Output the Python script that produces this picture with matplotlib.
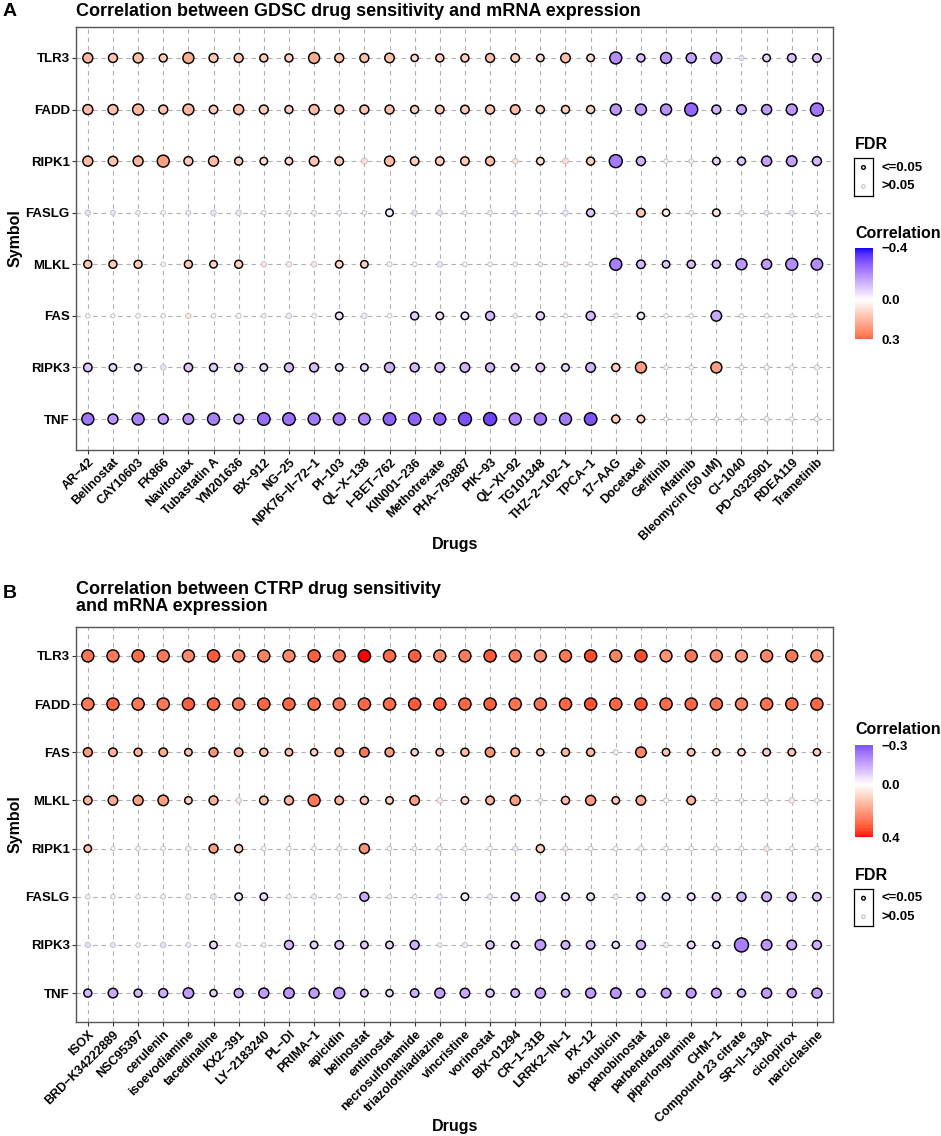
import numpy as np
import matplotlib
matplotlib.use("Agg")
import matplotlib.pyplot as plt
import matplotlib.cm as cm
import matplotlib.transforms as mtransforms
from matplotlib.colors import ListedColormap, Normalize

plt.rcParams["font.family"] = ["Liberation Sans", "DejaVu Sans"]
plt.rcParams["font.weight"] = "bold"

# ---------------- data: panel A (GDSC) ----------------
gdsc_drugs = ["AR-42", "Belinostat", "CAY10603", "FK866", "Navitoclax", "Tubastatin A",
              "YM201636", "BX-912", "NG-25", "NPK76-II-72-1", "PI-103", "QL-X-138",
              "I-BET-762", "KIN001-236", "Methotrexate", "PHA-793887", "PIK-93", "QL-XI-92",
              "TG101348", "THZ-2-102-1", "TPCA-1", "17-AAG", "Docetaxel", "Gefitinib",
              "Afatinib", "Bleomycin (50 uM)", "CI-1040", "PD-0325901", "RDEA119", "Trametinib"]
gdsc_genes = ["TLR3", "FADD", "RIPK1", "FASLG", "MLKL", "FAS", "RIPK3", "TNF"]

gdsc_cor = [
    # TLR3
    [0.15, 0.12, 0.14, 0.11, 0.17, 0.12, 0.12, 0.11, 0.10, 0.17, 0.12, 0.13, 0.13, 0.08, 0.10,
     0.10, 0.13, 0.11, 0.08, 0.14, 0.08, -0.20, -0.11, -0.18, -0.16, -0.18, -0.06, -0.08, -0.11, -0.11],
    # FADD
    [0.14, 0.13, 0.15, 0.12, 0.15, 0.11, 0.14, 0.11, 0.10, 0.14, 0.12, 0.12, 0.13, 0.10, 0.11,
     0.11, 0.12, 0.14, 0.10, 0.10, 0.10, -0.18, -0.18, -0.19, -0.26, -0.13, -0.16, -0.17, -0.18, -0.24],
    # RIPK1
    [0.14, 0.13, 0.15, 0.20, 0.11, 0.14, 0.10, 0.08, 0.08, 0.12, 0.11, 0.07, 0.14, 0.10, 0.10,
     0.11, 0.13, 0.05, 0.08, 0.07, 0.10, -0.23, -0.13, -0.02, -0.02, -0.08, -0.10, -0.16, -0.16, -0.12],
    # FASLG
    [-0.06, -0.05, -0.03, -0.02, -0.04, -0.05, -0.05, -0.02, -0.03, -0.04, -0.04, -0.02, -0.03, -0.06, -0.06,
     -0.03, -0.03, -0.04, -0.04, -0.05, -0.10, 0.03, 0.12, 0.03, -0.02, 0.06, -0.04, -0.05, -0.05, -0.03],
    # MLKL
    [0.12, 0.11, 0.11, 0.02, 0.12, 0.09, 0.10, 0.05, 0.04, 0.05, 0.09, 0.10, 0.03, 0.02, -0.05,
     -0.02, -0.02, -0.02, -0.02, 0.04, -0.02, -0.22, -0.12, -0.10, -0.11, -0.12, -0.18, -0.17, -0.20, -0.20],
    # FAS
    [-0.02, 0.00, 0.01, 0.01, 0.05, -0.01, -0.02, -0.02, -0.04, -0.01, -0.05, -0.04, -0.01, -0.09, -0.06,
     -0.05, -0.12, -0.02, -0.08, -0.02, -0.12, -0.01, -0.04, -0.01, -0.01, -0.15, -0.01, -0.01, -0.01, -0.01],
    # RIPK3
    [-0.10, -0.07, -0.06, -0.05, -0.10, -0.08, -0.08, -0.07, -0.11, -0.11, -0.07, -0.07, -0.13, -0.12, -0.12,
     -0.13, -0.12, -0.08, -0.10, -0.07, -0.13, 0.10, 0.20, -0.01, -0.01, 0.20, -0.01, -0.02, -0.01, 0.03],
    # TNF
    [-0.24, -0.18, -0.22, -0.17, -0.18, -0.22, -0.15, -0.25, -0.25, -0.23, -0.23, -0.21, -0.27, -0.27, -0.27,
     -0.30, -0.32, -0.22, -0.24, -0.23, -0.30, 0.10, 0.10, -0.01, -0.01, -0.02, -0.03, 0.02, -0.01, 0.02],
]

# -log10(FDR)
gdsc_logfdr = [
    [3.5, 2.6, 3.5, 1.9, 4.5, 2.6, 2.6, 1.9, 1.9, 4.5, 2.6, 2.6, 3.1, 1.35, 1.9,
     1.9, 2.6, 2.25, 1.55, 3.1, 1.55, 5.6, 1.9, 4.5, 3.5, 4.5, 0.4, 1.55, 2.25, 2.25],
    [3.5, 3.5, 4.5, 2.6, 4.5, 2.25, 3.5, 2.6, 1.9, 3.5, 2.6, 2.6, 2.6, 1.9, 2.25,
     2.25, 2.6, 3.1, 1.9, 1.9, 1.9, 4.5, 4.5, 4.5, 6.9, 2.6, 3.1, 3.5, 4.5, 6.9],
    [3.5, 3.1, 3.5, 5.6, 2.6, 3.5, 1.9, 1.55, 1.55, 3.1, 2.25, 0.75, 3.5, 2.25, 2.25,
     2.25, 2.6, 0.55, 1.55, 0.75, 1.9, 6.9, 2.6, 0.25, 0.25, 1.55, 1.9, 3.5, 4.0, 2.6],
    [0.55, 0.4, 0.25, 0.25, 0.4, 0.55, 0.55, 0.25, 0.25, 0.4, 0.4, 0.25, 1.55, 0.55, 0.55,
     0.25, 0.25, 0.4, 0.4, 0.55, 1.9, 0.25, 2.25, 1.35, 0.25, 1.55, 0.4, 0.4, 0.4, 0.25],
    [1.9, 1.9, 1.9, 0.25, 1.9, 1.55, 1.9, 0.55, 0.55, 0.55, 1.55, 1.55, 0.4, 0.25, 0.55,
     0.25, 0.25, 0.25, 0.25, 0.4, 0.25, 5.6, 2.25, 1.55, 1.9, 1.9, 4.5, 3.5, 5.6, 5.1],
    [0.25, 0.14, 0.25, 0.25, 0.55, 0.25, 0.4, 0.25, 0.55, 0.25, 1.55, 0.55, 0.25, 1.9, 1.55,
     1.55, 2.6, 0.25, 1.9, 0.25, 2.6, 0.25, 1.35, 0.25, 0.25, 4.0, 0.25, 0.25, 0.14, 0.14],
    [2.25, 1.55, 1.35, 0.55, 2.25, 1.9, 1.9, 1.55, 2.6, 2.6, 1.55, 1.55, 3.5, 2.6, 3.1,
     3.1, 2.6, 1.55, 2.25, 1.55, 3.1, 1.9, 4.5, 0.25, 0.25, 4.5, 0.25, 0.4, 0.25, 0.4],
    [5.6, 3.5, 5.6, 3.5, 4.0, 5.6, 3.1, 6.25, 6.25, 5.6, 5.6, 5.1, 6.25, 6.25, 5.6,
     6.9, 6.9, 5.6, 5.6, 5.6, 6.25, 1.9, 1.55, 0.25, 0.25, 0.25, 0.4, 0.4, 0.25, 0.4],
]

# ---------------- data: panel B (CTRP) ----------------
ctrp_drugs = ["ISOX", "BRD-K34222889", "NSC95397", "cerulenin", "isoevodiamine", "tacedinaline",
              "KX2-391", "LY-2183240", "PL-DI", "PRIMA-1", "apicidin", "belinostat", "entinostat",
              "necrosulfonamide", "triazolothiadiazine", "vincristine", "vorinostat", "BIX-01294",
              "CR-1-31B", "LRRK2-IN-1", "PX-12", "doxorubicin", "panobinostat", "parbendazole",
              "piperlongumine", "CHM-1", "Compound 23 citrate", "SR-II-138A", "ciclopirox",
              "narciclasine"]
ctrp_genes = ["TLR3", "FADD", "FAS", "MLKL", "RIPK1", "FASLG", "RIPK3", "TNF"]

ctrp_cor = [
    # TLR3
    [0.27, 0.27, 0.29, 0.27, 0.24, 0.32, 0.24, 0.25, 0.24, 0.31, 0.27, 0.40, 0.29, 0.31, 0.24,
     0.26, 0.32, 0.26, 0.23, 0.27, 0.34, 0.25, 0.34, 0.22, 0.27, 0.24, 0.22, 0.24, 0.27, 0.24],
    # FADD
    [0.27, 0.30, 0.27, 0.27, 0.31, 0.30, 0.27, 0.30, 0.30, 0.29, 0.27, 0.30, 0.29, 0.32, 0.32,
     0.30, 0.31, 0.28, 0.28, 0.30, 0.33, 0.30, 0.33, 0.29, 0.30, 0.28, 0.25, 0.28, 0.28, 0.30],
    # FAS
    [0.20, 0.16, 0.15, 0.17, 0.13, 0.22, 0.17, 0.14, 0.13, 0.10, 0.18, 0.27, 0.20, 0.10, 0.12,
     0.14, 0.22, 0.16, 0.10, 0.15, 0.15, 0.04, 0.24, 0.12, 0.12, 0.10, 0.08, 0.10, 0.12, 0.10],
    # MLKL
    [0.15, 0.17, 0.19, 0.20, 0.10, 0.16, 0.05, 0.14, 0.15, 0.27, 0.15, 0.13, 0.10, 0.20, 0.04,
     0.10, 0.15, 0.20, 0.02, 0.14, 0.20, 0.12, 0.18, 0.02, 0.15, 0.01, 0.01, 0.01, 0.04, 0.01],
    # RIPK1
    [0.12, 0.01, 0.01, 0.01, 0.02, 0.20, 0.10, 0.01, 0.00, 0.01, 0.03, 0.22, 0.01, 0.01, 0.03,
     0.01, 0.00, -0.04, 0.10, 0.04, 0.01, 0.01, 0.02, 0.01, 0.00, 0.02, 0.01, 0.05, 0.01, 0.01],
    # FASLG
    [-0.02, -0.02, -0.02, -0.02, -0.03, -0.05, -0.04, -0.06, -0.02, -0.04, -0.03, -0.15, -0.03, -0.02, -0.04,
     -0.04, -0.04, -0.09, -0.14, -0.06, -0.06, -0.03, -0.08, -0.06, -0.06, -0.09, -0.13, -0.14, -0.13, -0.11],
    # RIPK3
    [-0.06, -0.05, -0.03, -0.06, -0.04, -0.06, -0.02, -0.03, -0.12, -0.08, -0.10, -0.10, -0.08, -0.14, -0.04,
     -0.04, -0.10, -0.08, -0.17, -0.13, -0.12, -0.06, -0.13, -0.03, -0.07, -0.06, -0.22, -0.18, -0.15, -0.14],
    # TNF
    [-0.12, -0.15, -0.12, -0.14, -0.17, -0.08, -0.14, -0.17, -0.18, -0.17, -0.18, -0.10, -0.06, -0.14, -0.16,
     -0.15, -0.10, -0.12, -0.17, -0.13, -0.17, -0.18, -0.13, -0.17, -0.17, -0.16, -0.12, -0.17, -0.15, -0.17],
]

ctrp_logfdr = [
    [5.6, 5.6, 5.8, 5.6, 5.6, 5.8, 5.6, 5.6, 5.6, 5.8, 5.6, 6.0, 5.8, 5.8, 5.6,
     5.6, 5.8, 5.6, 5.4, 5.6, 5.8, 5.6, 5.8, 5.4, 5.6, 5.6, 5.4, 5.6, 5.6, 5.6],
    [5.8, 5.8, 5.8, 5.8, 5.8, 5.8, 5.8, 5.8, 5.8, 5.8, 5.8, 5.8, 5.8, 5.8, 5.8,
     5.8, 5.8, 5.8, 5.8, 5.8, 5.8, 5.8, 5.8, 5.8, 5.8, 5.8, 5.6, 5.8, 5.8, 5.8],
    [2.6, 2.25, 1.9, 2.25, 1.55, 2.6, 2.25, 1.9, 1.55, 1.35, 2.25, 3.1, 2.6, 1.35, 1.55,
     1.9, 3.1, 2.25, 1.35, 1.9, 1.9, 0.4, 4.0, 1.55, 1.55, 1.35, 1.35, 1.55, 1.55, 1.35],
    [2.25, 3.1, 3.5, 4.0, 1.55, 2.6, 0.55, 2.25, 2.6, 5.6, 2.25, 1.9, 1.55, 3.1, 0.55,
     1.55, 2.25, 3.5, 0.25, 1.9, 3.5, 1.55, 3.1, 0.4, 2.25, 0.25, 0.25, 0.25, 0.55, 0.25],
    [1.55, 0.14, 0.25, 0.25, 0.4, 2.6, 1.9, 0.25, 0.25, 0.25, 0.4, 3.5, 0.25, 0.25, 0.4,
     0.25, 0.25, 0.4, 1.9, 0.4, 0.25, 0.25, 0.4, 0.25, 0.25, 0.4, 0.25, 0.55, 0.25, 0.25],
    [0.25, 0.25, 0.25, 0.25, 0.4, 0.55, 1.55, 1.55, 0.25, 0.4, 0.4, 2.6, 0.25, 0.25, 0.4,
     1.55, 0.4, 1.9, 3.1, 1.55, 1.55, 0.4, 1.9, 1.55, 1.55, 1.9, 2.6, 3.1, 2.6, 2.25],
    [0.55, 0.4, 0.25, 0.55, 0.4, 1.55, 0.25, 0.25, 2.6, 1.55, 2.25, 1.55, 1.55, 2.6, 0.25,
     0.4, 1.9, 1.55, 4.0, 2.25, 2.25, 1.35, 2.6, 0.4, 1.55, 1.35, 8.3, 4.0, 3.1, 2.6],
    [1.9, 3.1, 1.9, 2.6, 4.0, 1.35, 2.6, 3.5, 4.0, 3.5, 4.5, 1.55, 1.35, 2.25, 3.5,
     3.1, 1.9, 2.25, 3.5, 1.9, 3.5, 4.0, 2.25, 3.1, 3.1, 3.1, 1.9, 3.5, 2.6, 3.5],
]


# ---------------- colour scale (ggplot gradient2 in Lab space) ----------------
_M = np.array([[0.4124564, 0.3575761, 0.1804375],
               [0.2126729, 0.7151522, 0.0721750],
               [0.0193339, 0.1191920, 0.9503041]])
_WHITE = np.array([0.95047, 1.0, 1.08883])


def to_lab(rgb):
    rgb = np.asarray(rgb, float)
    lin = np.where(rgb <= 0.04045, rgb / 12.92, ((rgb + 0.055) / 1.055) ** 2.4)
    xyz = _M @ lin / _WHITE
    d = 6 / 29
    f = np.where(xyz > d ** 3, np.cbrt(xyz), xyz / (3 * d * d) + 4 / 29)
    return np.array([116 * f[1] - 16, 500 * (f[0] - f[1]), 200 * (f[1] - f[2])])


def from_lab(lab):
    L, a, b = lab
    fy = (L + 16) / 116
    f = np.array([fy + a / 500, fy, fy - b / 200])
    d = 6 / 29
    xyz = np.where(f > d, f ** 3, 3 * d * d * (f - 4 / 29)) * _WHITE
    lin = np.clip(np.linalg.solve(_M, xyz), 0, 1)
    rgb = np.where(lin <= 0.0031308, 12.92 * lin, 1.055 * lin ** (1 / 2.4) - 0.055)
    return np.clip(rgb, 0, 1)


lab_low, lab_mid, lab_high = to_lab([0, 0, 1]), to_lab([1, 1, 1]), to_lab([1, 0, 0])
cols = []
for t in np.linspace(0, 1, 256):
    if t < 0.5:
        cols.append(from_lab(lab_low + (lab_mid - lab_low) * (t * 2)))
    else:
        cols.append(from_lab(lab_mid + (lab_high - lab_mid) * ((t - 0.5) * 2)))
cmap = ListedColormap(cols)
norm = Normalize(-0.4, 0.4)


def fmt(s):
    return s.replace("-", "\u2212")


def draw_panel(ax, drugs, genes, cor, logfdr):
    cor = np.asarray(cor)
    logfdr = np.asarray(logfdr)
    xs = np.tile(np.arange(len(drugs)), len(genes))
    ys = np.repeat(np.arange(len(genes)), len(drugs))
    c = cor.ravel()
    v = logfdr.ravel()
    sig = v >= -np.log10(0.05)
    d_px = 2.5 + 4.0 * np.sqrt(v)
    sizes = (d_px * 0.72) ** 2
    edge = np.where(sig, "black", "#C4C4C4")
    lw = np.where(sig, 1.05, 0.7)
    ax.scatter(xs, ys, s=sizes, c=c, cmap=cmap, norm=norm,
               edgecolors=edge, linewidths=lw, zorder=3)
    ax.set_xlim(-0.47, len(drugs) - 0.36)
    ax.set_ylim(len(genes) - 0.4, -0.6)
    ax.set_xticks(range(len(drugs)))
    ax.set_yticks(range(len(genes)))
    ax.set_yticklabels(genes, fontsize=9.5, fontweight="bold")
    ax.set_xticklabels([fmt(s) for s in drugs], fontsize=9, fontweight="bold",
                       rotation=45, ha="right", va="top", rotation_mode="anchor")
    off = mtransforms.ScaledTranslation(5 / 72, 0, ax.figure.dpi_scale_trans)
    for lab in ax.get_xticklabels():
        lab.set_transform(lab.get_transform() + off)
    ax.grid(True, color="#B0B0B0", linestyle=(0, (4, 3.5)), linewidth=0.8, zorder=0)
    ax.set_axisbelow(True)
    for sp in ax.spines.values():
        sp.set_color("#555555")
        sp.set_linewidth(1.0)
    ax.tick_params(length=3, width=0.8, color="#333333", pad=1.5, labelcolor="black")


def fdr_key(fig, rect, ylab_hi, ylab_lo):
    kax = fig.add_axes(rect)
    kax.scatter([0.5, 0.5], [1.5, 0.5], s=7, c="white",
                edgecolors=["black", "#BBBBBB"], linewidths=[1.0, 0.7])
    kax.set_xlim(0, 1)
    kax.set_ylim(0, 2)
    kax.set_xticks([])
    kax.set_yticks([])
    for sp in kax.spines.values():
        sp.set_linewidth(0.9)
    fig.text(882 / W, ylab_hi, "<=0.05", fontsize=9.5, fontweight="bold", va="center")
    fig.text(882 / W, ylab_lo, ">0.05", fontsize=9.5, fontweight="bold", va="center")


def corr_bar(fig, rect, lo, hi, labels):
    cax = fig.add_axes(rect)
    sm = cm.ScalarMappable(norm=norm, cmap=cmap)
    cb = fig.colorbar(sm, cax=cax, boundaries=np.linspace(lo, hi, 200), ticks=[lo, 0, hi])
    cb.outline.set_visible(False)
    cax.invert_yaxis()
    cb.set_ticklabels(labels)
    cax.tick_params(length=0, pad=6, labelsize=9.5)
    for t in cax.get_yticklabels():
        t.set_fontweight("bold")


W, H = 941, 1136
fig = plt.figure(figsize=(W / 100, H / 100), dpi=100)

# panel A
axA = fig.add_axes([76 / W, 1 - 450 / H, 757 / W, 423 / H])
draw_panel(axA, gdsc_drugs, gdsc_genes, gdsc_cor, gdsc_logfdr)
fig.text(3 / W, 1 - 11 / H, "A", fontsize=14, fontweight="bold", va="center")
fig.text(76 / W, 1 - 11 / H, "Correlation between GDSC drug sensitivity and mRNA expression",
         fontsize=13, fontweight="bold", va="center")
fig.text(15 / W, 1 - 238 / H, "Symbol", fontsize=11.5, fontweight="bold", rotation=90,
         ha="center", va="center")
fig.text(455 / W, 1 - 545 / H, "Drugs", fontsize=11.5, fontweight="bold", ha="center", va="center")
fig.text(855 / W, 1 - 144 / H, "FDR", fontsize=11.5, fontweight="bold", va="center")
fdr_key(fig, [854 / W, 1 - 196 / H, 19 / W, 38 / H], 1 - 168 / H, 1 - 186 / H)
fig.text(855 / W, 1 - 233 / H, "Correlation", fontsize=11.5, fontweight="bold", va="center")
corr_bar(fig, [855 / W, 1 - 339 / H, 18 / W, 91 / H], -0.4, 0.3, ["\u22120.4", "0.0", "0.3"])

# panel B
axB = fig.add_axes([76 / W, 1 - 1022 / H, 757 / W, 395 / H])
draw_panel(axB, ctrp_drugs, ctrp_genes, ctrp_cor, ctrp_logfdr)
fig.text(3 / W, 1 - 593 / H, "B", fontsize=14, fontweight="bold", va="center")
fig.text(76 / W, 1 - 581 / H, "Correlation between CTRP drug sensitivity\nand mRNA expression",
         fontsize=13, fontweight="bold", va="top", linespacing=1.0)
fig.text(15 / W, 1 - 824 / H, "Symbol", fontsize=11.5, fontweight="bold", rotation=90,
         ha="center", va="center")
fig.text(455 / W, 1 - 1126 / H, "Drugs", fontsize=11.5, fontweight="bold", ha="center", va="center")
fig.text(855 / W, 1 - 730 / H, "Correlation", fontsize=11.5, fontweight="bold", va="center")
corr_bar(fig, [855 / W, 1 - 837 / H, 18 / W, 92 / H], -0.3, 0.4, ["\u22120.3", "0.0", "0.4"])
fig.text(855 / W, 1 - 875 / H, "FDR", fontsize=11.5, fontweight="bold", va="center")
fdr_key(fig, [854 / W, 1 - 926 / H, 19 / W, 37 / H], 1 - 898 / H, 1 - 917 / H)

fig.savefig("out.png", dpi=100, facecolor="white")
